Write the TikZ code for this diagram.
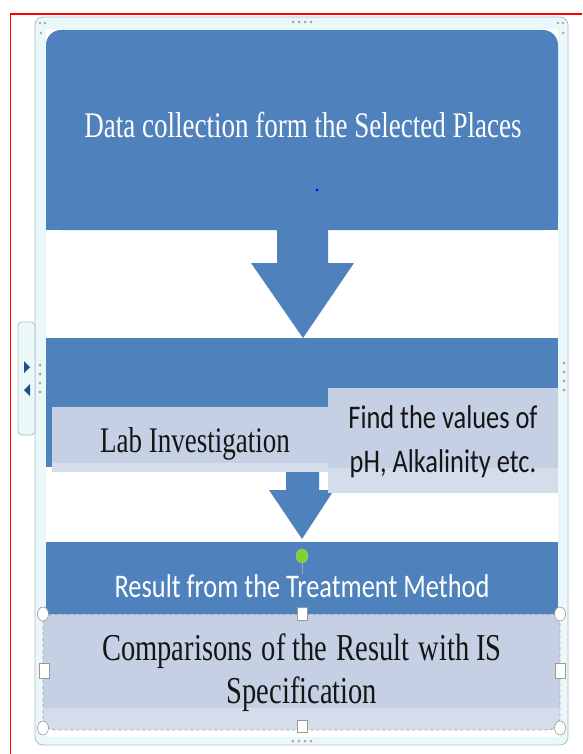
\documentclass[tikz,border=0pt]{standalone}
\usepackage{fontspec}
\newfontfamily\serifx[FakeStretch=0.75]{Liberation Serif}
\newfontfamily\sansx[FakeStretch=0.8]{Carlito}
\definecolor{bandblue}{HTML}{4F81BD}
\definecolor{lightbox}{HTML}{C5D0E4}
\definecolor{lightstrip}{HTML}{D5DCEA}
\definecolor{framecyan}{HTML}{EAF8FA}
\definecolor{framegray}{HTML}{AFBFC6}
\definecolor{tabblue}{HTML}{1F4E8C}
\definecolor{greendot}{HTML}{7ED32C}
\definecolor{textdark}{HTML}{151515}
\tikzset{
  serifbig/.style={font=\serifx\fontsize{36}{42}\selectfont, inner sep=0pt, anchor=base},
  serifcomp/.style={font=\serifx\fontsize{38}{44}\selectfont, inner sep=0pt, anchor=base},
  sansbig/.style={font=\sansx\fontsize{33}{44}\selectfont, inner sep=0pt, anchor=base},
  handle/.style={fill=white, draw=gray!80, line width=0.6pt},
  gripdot/.style={fill=gray!70},
}
\begin{document}
\begin{tikzpicture}[x=1pt,y=-1pt]
\useasboundingbox (0,0) rectangle (582,754);
\fill[white] (0,0) rectangle (582,754);
% red frame lines
\draw[red, line width=1.4pt] (10.5,754) -- (10.5,14) -- (582,14);
% outer selection frame
\fill[framecyan, draw=framegray, line width=0.8pt, rounded corners=8pt] (35,17) rectangle (568,745);
\fill[white] (46,29) rectangle (558,737);
% left tab
\fill[framecyan, draw=framegray, line width=0.8pt, rounded corners=4pt] (18,322) rectangle (35,435);
\fill[tabblue] (24,361) -- (30,367) -- (24,373) -- cycle;
\fill[tabblue] (30,384) -- (24,390) -- (30,396) -- cycle;
% grip dots
\foreach \yy in {365,374,383,392} {\fill[gripdot] (40,\yy) circle (1.6);}
\foreach \yy in {363,372,381,390} {\fill[gripdot] (564,\yy) circle (1.6);}
\foreach \xx in {293,299,305,311} {\fill[gripdot] (\xx,22) circle (1.5); \fill[gripdot] (\xx,741) circle (1.5);}
\foreach \xx in {40,45} {\fill[gripdot] (\xx,23) circle (1.4); \fill[gripdot] (\xx+518,23) circle (1.4);}
\fill[gripdot] (41,33) circle (1.4); \fill[gripdot] (563,33) circle (1.4);
% top blue box
\fill[bandblue, rounded corners=15pt] (46,30) rectangle (558,230);
\fill[bandblue] (46,190) rectangle (558,230);
\node[serifbig, text=white] (datatext) at (303,138) {Data collection form the Selected Places};
\fill[blue] (317,190) circle (1.5);
% arrow 1
\fill[bandblue] (277,229) -- (328,229) -- (328,263) -- (354,263) -- (303,338) -- (251,263) -- (277,263) -- cycle;
% second band
\fill[bandblue] (46,338) rectangle (558,467);
% arrow 2
\fill[bandblue] (286,470) -- (319,470) -- (319,490) -- (334,490) -- (302,539) -- (269,490) -- (286,490) -- cycle;
% lab box
\fill[lightbox] (52,407) rectangle (335,472);
\fill[lightstrip] (52,463) rectangle (335,472);
\node[serifbig, text=textdark] (labtext) at (195,452) {Lab Investigation};
% find box
\fill[lightbox] (328,388) rectangle (558,493);
\fill[lightstrip] (328,468) rectangle (558,493);
\node[sansbig, text=textdark] (findone) at (443,428) {Find the values of};
\node[sansbig, text=textdark] (findtwo) at (443,472) {pH, Alkalinity etc.};
% third band
\fill[bandblue] (46,542) rectangle (558,614);
\node[sansbig, text=white] (resulttext) at (302,597) {Result from the Treatment Method};
% green rotation handle
\draw[gray!70, line width=0.6pt] (302,562) -- (302,574);
\fill[greendot, draw=gray!60, line width=0.5pt] (302,556) ellipse (6 and 7);
% bottom box
\begin{scope}
\clip[rounded corners=12pt] (43,600) rectangle (560,730);
\fill[lightbox] (43,614) rectangle (560,730);
\fill[lightstrip] (43,708) rectangle (560,730);
\end{scope}
\draw[gray!70, dashed, line width=0.7pt, rounded corners=12pt] (43,614) -- (43,730) -- (560,730) -- (560,614);
\draw[gray!70, dashed, line width=0.7pt] (43,614) -- (560,614);
\node[serifcomp, text=textdark] (compone) at (302,660) {Comparisons\ \hspace{2pt}of the\ \hspace{2pt}Result\ \hspace{2pt}with IS};
\node[serifcomp, text=textdark] (comptwo) at (302,703) {Specification};
% selection handles
\filldraw[handle] (43,614) ellipse (5.5 and 7);
\filldraw[handle] (560,614) ellipse (5.5 and 7);
\filldraw[handle] (297,607) rectangle (307,620);
\filldraw[handle] (39,663) rectangle (49,678);
\filldraw[handle] (555,663) rectangle (565,678);
\filldraw[handle] (297,720) rectangle (307,732);
\filldraw[handle] (43,728) ellipse (5.5 and 7);
\filldraw[handle] (560,728) ellipse (5.5 and 7);
\end{tikzpicture}
\end{document}
